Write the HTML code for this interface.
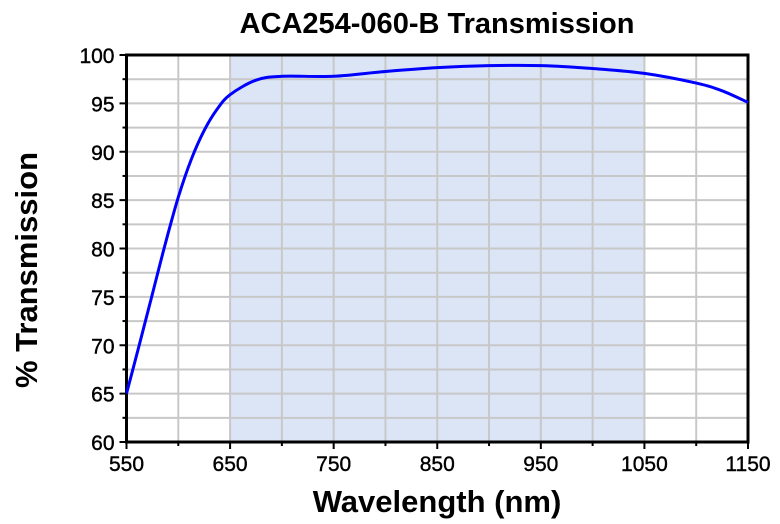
<!DOCTYPE html>
<html><head><meta charset="utf-8"><style>
body{margin:0;background:#fff;font-family:"Liberation Sans",Arial,sans-serif}
svg{display:block}
</style></head><body>
<svg width="780" height="524" viewBox="0 0 780 524">
</svg>
<script>
const wavelengths=[550,562.5,575,587.5,600,612.5,625,637.5,650,675,700,750,800,850,900,950,1000,1050,1100,1125,1150];
const transmission=[65,70.1,75.3,80.5,85.3,89.2,92.2,94.4,95.9,97.4,97.8,97.8,98.3,98.7,98.9,98.9,98.6,98.1,97.1,96.3,95.1];
const xTicks=[550,650,750,850,950,1050,1150];
const yTicks=[60,65,70,75,80,85,90,95,100];
const band=[650,1050];
const L=126.5,R=748,T=55,B=442;
const X=v=>L+(v-550)/600*(R-L);
const Y=v=>B-(v-60)/40*(B-T);
const NS="http://www.w3.org/2000/svg";
const svg=document.querySelector('svg');
function mk(t,a){const e=document.createElementNS(NS,t);for(const k in a)e.setAttribute(k,a[k]);svg.appendChild(e);return e;}
const title=mk('text',{x:437,y:33,'text-anchor':'middle','font-size':29,'font-weight':'bold'});title.textContent='ACA254-060-B Transmission';


const bd=mk('rect',{x:X(band[0]),y:T,width:X(band[1])-X(band[0]),height:B-T,fill:'#dce5f6'});


for(let w=600;w<1150;w+=50){const g=mk('line',{x1:X(w),x2:X(w),y1:T,y2:B,stroke:'#c8c8c8','stroke-width':2});

}
for(let v=62.5;v<100;v+=2.5){const g=mk('line',{x1:L,x2:R,y1:Y(v),y2:Y(v),stroke:'#c8c8c8','stroke-width':2});

}
const fr=mk('rect',{x:L,y:T,width:R-L,height:B-T,fill:'none',stroke:'#000','stroke-width':3});


const pts=wavelengths.map((w,i)=>[X(w),Y(transmission[i])]);
let d='M'+pts[0][0]+','+pts[0][1];
for(let i=0;i<pts.length-1;i++){const p0=pts[i-1]||pts[i],p1=pts[i],p2=pts[i+1],p3=pts[i+2]||p2;
d+=` C${p1[0]+(p2[0]-p0[0])/6},${p1[1]+(p2[1]-p0[1])/6} ${p2[0]-(p3[0]-p1[0])/6},${p2[1]-(p3[1]-p1[1])/6} ${p2[0]},${p2[1]}`;}
const ln=mk('path',{d:d,fill:'none',stroke:'#0000ff','stroke-width':3});


xTicks.forEach(w=>{mk('line',{x1:X(w),x2:X(w),y1:B,y2:B+7,stroke:'#000','stroke-width':2});
const t=mk('text',{x:X(w),y:B+29,'text-anchor':'middle','font-size':21,stroke:'#000','stroke-width':0.4});t.textContent=w;

});
for(let w=600;w<1150;w+=100)mk('line',{x1:X(w),x2:X(w),y1:B,y2:B+4,stroke:'#000','stroke-width':2});
yTicks.forEach(v=>{mk('line',{x1:L-7,x2:L,y1:Y(v),y2:Y(v),stroke:'#000','stroke-width':2});
const t=mk('text',{x:L-12,y:Y(v)+8,'text-anchor':'end','font-size':21,stroke:'#000','stroke-width':0.4});t.textContent=v;

});
for(let v=62.5;v<100;v+=5)mk('line',{x1:L-4,x2:L,y1:Y(v),y2:Y(v),stroke:'#000','stroke-width':2});
const xt=mk('text',{x:437,y:512,'text-anchor':'middle','font-size':31,'font-weight':'bold'});xt.textContent='Wavelength (nm)';


const yt=mk('text',{x:0,y:0,'text-anchor':'middle','font-size':31,'font-weight':'bold',transform:'translate(37,270) rotate(-90)'});yt.textContent='% Transmission';


</script>
</body></html>
